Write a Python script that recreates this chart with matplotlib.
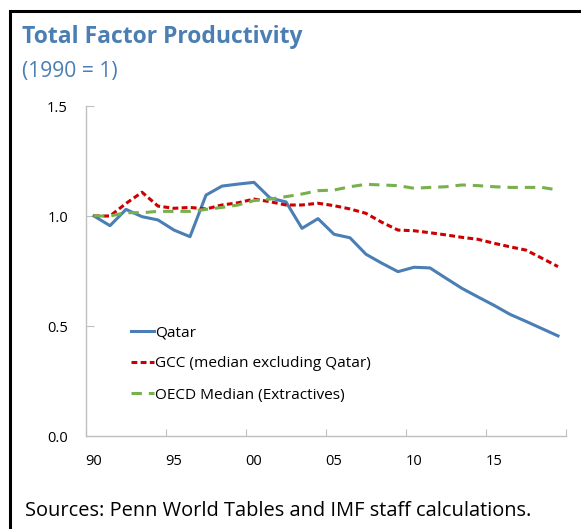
import matplotlib
matplotlib.use("Agg")
import matplotlib.pyplot as plt
from matplotlib.patches import Rectangle

plt.rcParams['font.family'] = ['Open Sans', 'DejaVu Sans']
plt.rcParams['lines.scale_dashes'] = False

years = list(range(1990, 2020))

qatar = [1.00, 0.956, 1.03, 0.997, 0.982, 0.936, 0.906, 1.095, 1.136, 1.145,
         1.153, 1.082, 1.064, 0.944, 0.988, 0.917, 0.901, 0.826, 0.785, 0.747,
         0.767, 0.764, 0.717, 0.671, 0.632, 0.594, 0.553, 0.521, 0.488, 0.455]

gcc = [1.00, 1.00, 1.057, 1.108, 1.045, 1.035, 1.039, 1.032, 1.05, 1.06,
       1.077, 1.065, 1.05, 1.05, 1.058, 1.047, 1.032, 1.012, 0.971, 0.936,
       0.933, 0.924, 0.914, 0.903, 0.894, 0.876, 0.86, 0.845, 0.808, 0.77]

oecd = [1.00, 1.00, 1.015, 1.015, 1.021, 1.021, 1.021, 1.03, 1.039, 1.05,
        1.07, 1.077, 1.088, 1.10, 1.115, 1.118, 1.133, 1.144, 1.141, 1.138,
        1.126, 1.13, 1.133, 1.141, 1.138, 1.133, 1.13, 1.13, 1.13, 1.118]

label_years = [1990, 1995, 2000, 2005, 2010, 2015]
year_labels = ['90', '95', '00', '05', '10', '15']
y_ticks = [0.0, 0.5, 1.0, 1.5]
y_labels = ['0.0', '0.5', '1.0', '1.5']

W, H = 581, 529
fig = plt.figure(figsize=(W / 100, H / 100), dpi=100)
ax = fig.add_axes([86 / W, 1 - 436 / H, 480 / W, 330 / H])

ax.plot(years, qatar, color='#4a7eb4', lw=2.2, label='Qatar')
ax.plot(years, gcc, color='#cc0000', lw=2.2, dashes=(4.2, 2.4), label='GCC (median excluding Qatar)')
ax.plot(years, oecd, color='#78b04e', lw=2.2, dashes=(7.5, 5), label='OECD Median (Extractives)')

ax.set_xlim(1989.5, 2019.5)
ax.set_ylim(0, 1.5)
ax.set_xticks([1989.5 + 5 * k for k in range(7)])
ax.set_xticklabels([])
ax.set_xticks(label_years, minor=True)
ax.set_xticklabels(year_labels, minor=True)
ax.tick_params(axis='x', which='major', direction='in', length=5, color='#bfbfbf')
ax.tick_params(axis='x', which='minor', length=0, pad=13, labelsize=10.5)
ax.set_yticks(y_ticks)
ax.set_yticklabels(y_labels)
ax.tick_params(axis='y', direction='in', length=6, color='#bfbfbf', pad=13, labelsize=10.5)

for s in ['top', 'right']:
    ax.spines[s].set_visible(False)
for s in ['left', 'bottom']:
    ax.spines[s].set_color('#bfbfbf')
    ax.spines[s].set_linewidth(1)

ax.legend(loc='upper left', bbox_to_anchor=(125 / W, 1 - 319 / H), bbox_transform=fig.transFigure,
          frameon=False, fontsize=11.1, handlelength=1.45, handletextpad=0.12,
          labelspacing=1.05, borderaxespad=0)

fig.text(22 / W, 1 - 37 / H, 'Total Factor Productivity', fontsize=16.5, fontweight='bold',
         color='#4a7eb4', va='center', ha='left')
fig.text(22 / W, 1 - 71 / H, '(1990 = 1)', fontsize=15.2, color='#4a7eb4', va='center', ha='left')
fig.text(25 / W, 1 - 511 / H, 'Sources: Penn World Tables and IMF staff calculations.',
         fontsize=14.4, color='black', va='center', ha='left')

fig.patches.append(Rectangle((9.5 / W, -0.5), 2, 1.5 - 11 / H, transform=fig.transFigure,
                             fill=False, edgecolor='black', lw=2.2))

fig.savefig('out.png', dpi=100)
